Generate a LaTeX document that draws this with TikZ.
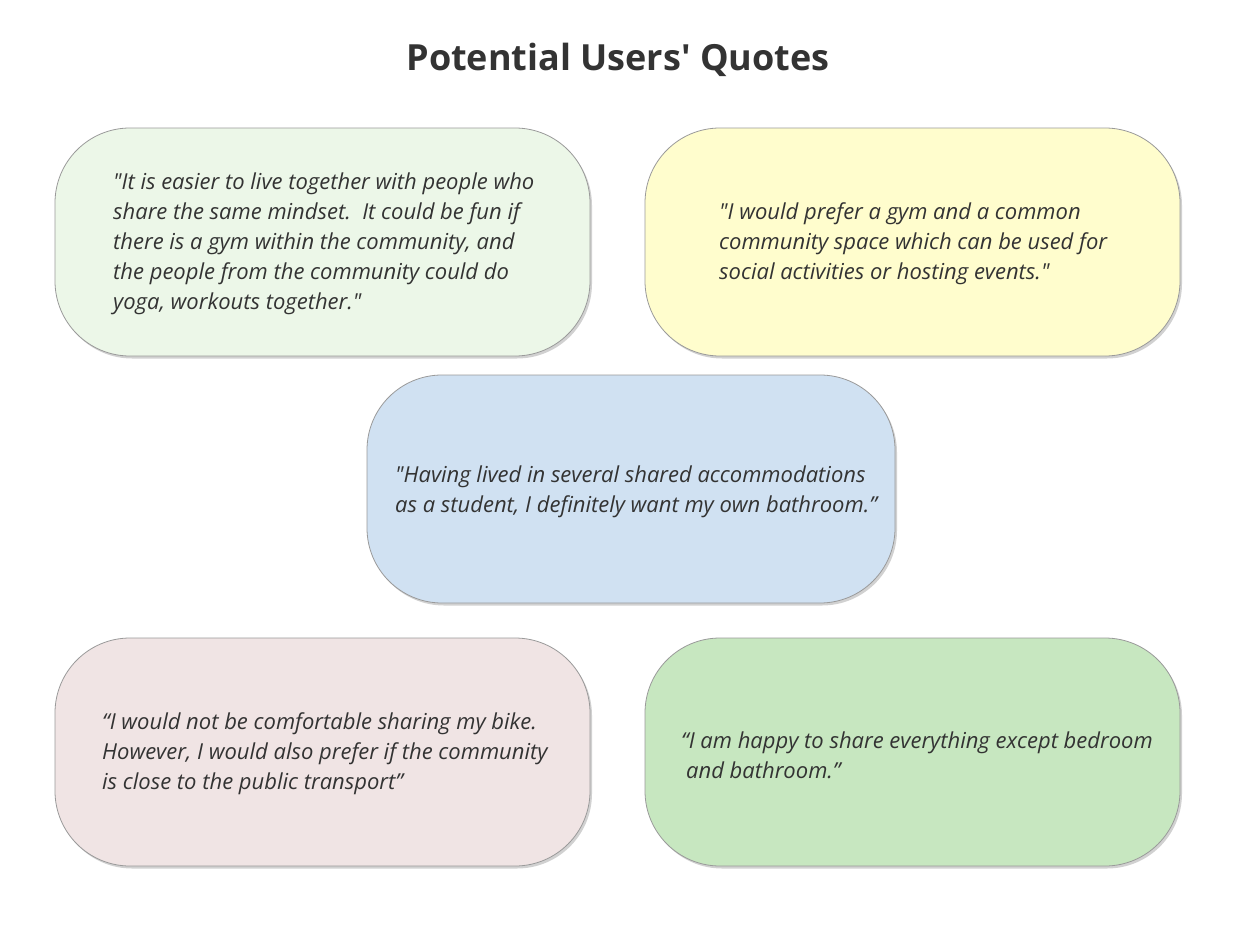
\documentclass[tikz,border=0pt]{standalone}
\usepackage{fontspec}
\setmainfont{Open Sans}
\usetikzlibrary{shadows}
\definecolor{inkgray}{HTML}{333333}
\definecolor{edgegray}{HTML}{9A9A9A}
\definecolor{mintfill}{HTML}{ECF7E8}
\definecolor{creamfill}{HTML}{FFFDCD}
\definecolor{skyfill}{HTML}{D0E1F2}
\definecolor{rosefill}{HTML}{F0E4E4}
\definecolor{leaffill}{HTML}{C7E7C0}
\newcommand{\dq}{\textquotedbl}
\tikzset{
  quotebox/.style={draw=edgegray, line width=0.8pt, rounded corners=75pt,
    minimum width=535pt, minimum height=228pt, inner sep=0pt,
    drop shadow={shadow xshift=2pt, shadow yshift=-2.5pt, opacity=0.18, fill=black}},
  quotetext/.style={anchor=west, align=left, inner sep=0pt, text=inkgray,
    font=\fontsize{22}{30}\selectfont\itshape},
}
\begin{document}
\begin{tikzpicture}[x=1pt,y=-1pt]
  \useasboundingbox (0,0) rectangle (1234,942);
  \fill[white] (0,0) rectangle (1234,942);

  % heading
  \node (title) at (618,60) [text=inkgray, font=\fontsize{36}{40}\selectfont\bfseries]
    {Potential Users\textquotesingle{} Quotes};

  % rounded quote boxes
  \node[quotebox, fill=mintfill]  (q1) at (322.5,242) {};
  \node[quotebox, fill=creamfill] (q2) at (912.5,242) {};
  \node[quotebox, fill=skyfill, minimum width=528pt] (q3) at (631,489) {};
  \node[quotebox, fill=rosefill]  (q4) at (322.5,752) {};
  \node[quotebox, fill=leaffill]  (q5) at (912.5,752) {};

  % quotes
  \node[quotetext] (t1) at (113,244) {\dq It is easier to live together with people who\\
    share the same mindset.\ \ It could be fun if\\
    there is a gym within the community, and\\
    the people from the community could do\\
    yoga, workouts together.\dq};
  \node[quotetext] (t2) at (719,244) {\dq I would prefer a gym and a common\\
    community space which can be used for\\
    social activities or hosting events.\dq};
  \node[quotetext] (t3) at (395,492) {\dq Having lived in several shared accommodations\\
    as a student, I definitely want my own bathroom.”};
  \node[quotetext] (t4) at (102,754) {“I would not be comfortable sharing my bike.\\
    However, I would also prefer if the community\\
    is close to the public transport”};
  \node[quotetext] (t5) at (681,755) {“I am happy to share everything except bedroom\\
    \hspace*{5pt}and bathroom.”};
\end{tikzpicture}
\end{document}
